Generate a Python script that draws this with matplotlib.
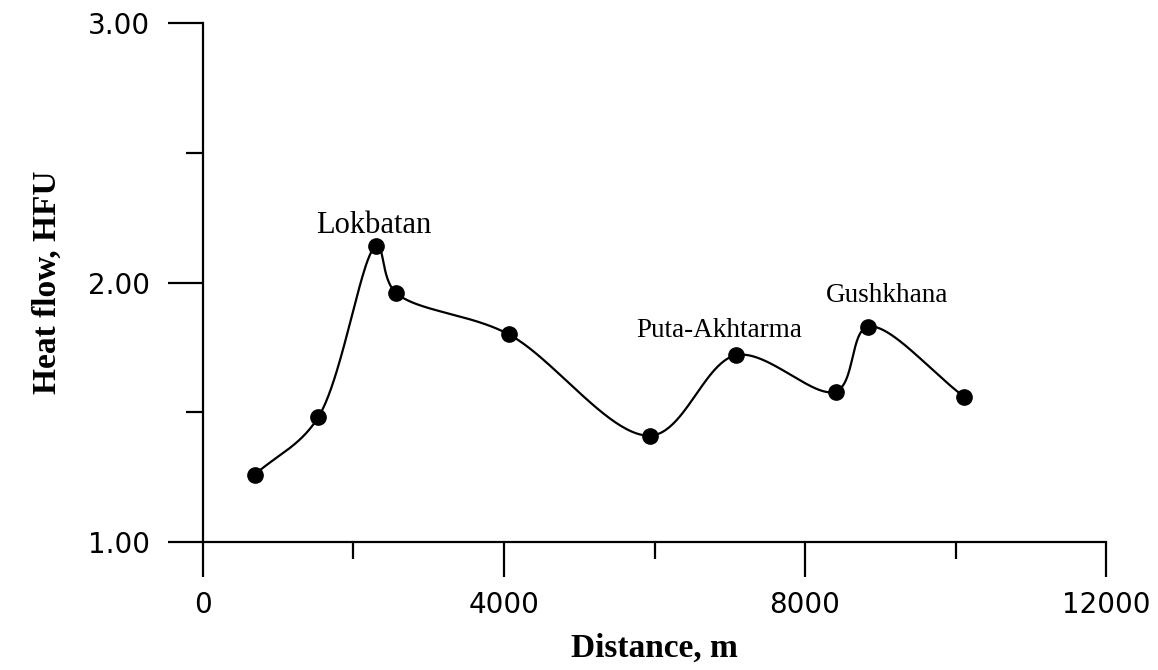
import numpy as np
import matplotlib
matplotlib.use('Agg')
import matplotlib.pyplot as plt
from matplotlib.ticker import MultipleLocator, FixedLocator

# heat flow profile
distance = [690, 1530, 2300, 2565, 4065, 5940, 7085, 8410, 8840, 10115]
heat_flow = [1.26, 1.48, 2.14, 1.96, 1.80, 1.41, 1.72, 1.58, 1.83, 1.56]

labels = ['Lokbatan', 'Puta-Akhtarma', 'Gushkhana']
label_x = [2270, 6860, 9090]
label_y = [2.19, 1.79, 1.925]
label_size = [22, 19.5, 19.5]


def smooth_line(P, n=50, alpha=0.4):
    # centripetal catmull-rom through the points (P in pixel units)
    P = np.asarray(P, float)
    P = np.vstack([2 * P[0] - P[1], P, 2 * P[-1] - P[-2]])
    out = []
    for i in range(1, len(P) - 2):
        p0, p1, p2, p3 = P[i - 1], P[i], P[i + 1], P[i + 2]
        t0 = 0.0
        t1 = t0 + np.linalg.norm(p1 - p0) ** alpha
        t2 = t1 + np.linalg.norm(p2 - p1) ** alpha
        t3 = t2 + np.linalg.norm(p3 - p2) ** alpha
        t = np.linspace(t1, t2, n)[:, None]
        a1 = (t1 - t) / (t1 - t0) * p0 + (t - t0) / (t1 - t0) * p1
        a2 = (t2 - t) / (t2 - t1) * p1 + (t - t1) / (t2 - t1) * p2
        a3 = (t3 - t) / (t3 - t2) * p2 + (t - t2) / (t3 - t2) * p3
        b1 = (t2 - t) / (t2 - t0) * a1 + (t - t0) / (t2 - t0) * a2
        b2 = (t3 - t) / (t3 - t1) * a2 + (t - t1) / (t3 - t1) * a3
        c = (t2 - t) / (t2 - t1) * b1 + (t - t1) / (t2 - t1) * b2
        out.append(c)
    return np.vstack(out)


fig = plt.figure(figsize=(11.58, 6.70), dpi=100)
ax = fig.add_axes([0.1753, 0.191, 0.7798, 0.7747])
ax.set_xlim(0, 12000)
ax.set_ylim(1, 3)

pix = ax.transData.transform(np.column_stack([distance, heat_flow]))
curve = ax.transData.inverted().transform(smooth_line(pix))
ax.plot(curve[:, 0], curve[:, 1], color='black', lw=1.6)
ax.plot(distance, heat_flow, 'o', color='black', markersize=11)

for t, lx, ly, fs in zip(labels, label_x, label_y, label_size):
    ax.text(lx, ly, t, family='Liberation Serif', fontsize=fs, ha='center', va='baseline')

ax.spines['top'].set_visible(False)
ax.spines['right'].set_visible(False)
for s in ['left', 'bottom']:
    ax.spines[s].set_linewidth(1.6)

ax.xaxis.set_major_locator(FixedLocator([0, 4000, 8000, 12000]))
ax.xaxis.set_minor_locator(MultipleLocator(2000))
ax.yaxis.set_major_locator(FixedLocator([1, 2, 3]))
ax.yaxis.set_minor_locator(MultipleLocator(0.5))
ax.set_yticklabels(['1.00', '2.00', '3.00'])
ax.set_xticklabels(['0', '4000', '8000', '12000'])
ax.tick_params(which='major', direction='out', length=25, width=1.6, labelsize=20, pad=10)
ax.tick_params(which='minor', direction='out', length=12, width=1.6)
ax.tick_params(axis='y', which='major', pad=13.5)

ax.set_xlabel('Distance, m', family='Liberation Serif', fontsize=24, fontweight='bold', labelpad=10)
ax.set_ylabel('Heat flow, HFU', family='Liberation Serif', fontsize=24, fontweight='bold', labelpad=18)

fig.savefig('out.png', dpi=100)
